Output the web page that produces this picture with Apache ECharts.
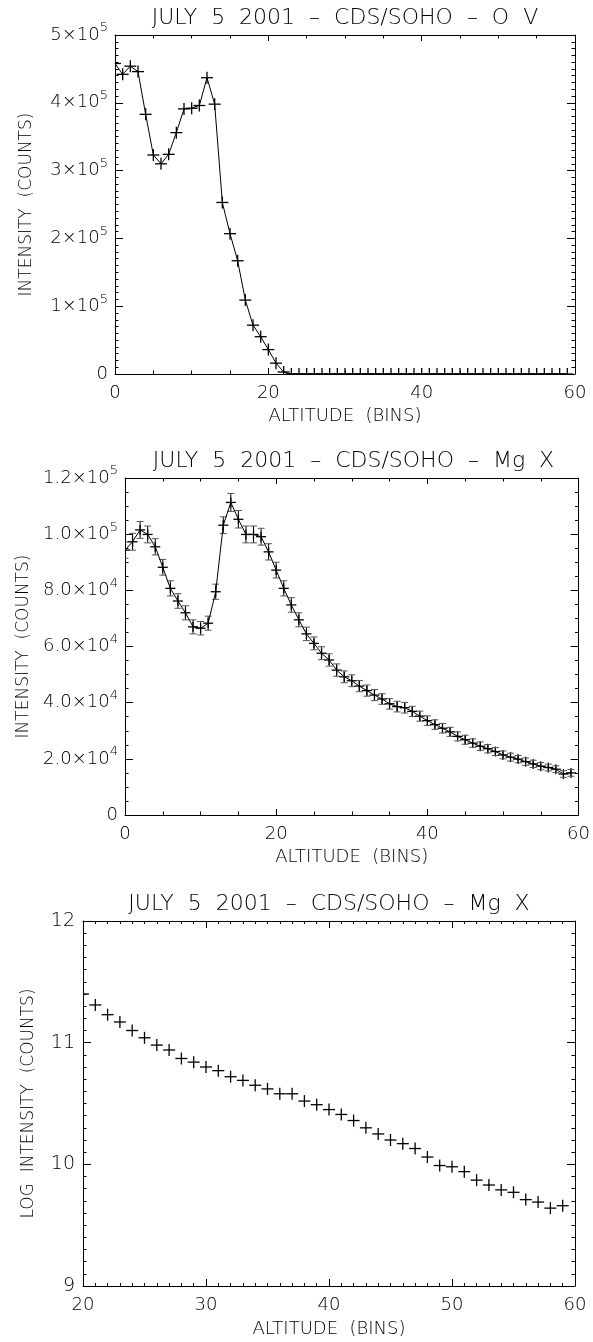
<!DOCTYPE html>
<html>
<head>
<meta charset="utf-8">
<script src="https://cdn.jsdelivr.net/npm/echarts@6/dist/echarts.min.js"></script>
<style>
  html, body {margin: 0; padding: 0; background: #fff;}
  #chart {width: 593px; height: 1342px;}
</style>
</head>
<body>
<div id="chart"></div>
<script>
// panel 1: O V intensity, bins 0..59
const ovStart = 0;
const ovCounts = [
  458000, 442000, 454000, 446000, 383000, 323000, 310000, 324000, 356000, 391000,
  392000, 396000, 437000, 398000, 253000, 207000, 167000, 109000, 72000, 55000,
  36000, 16000, 3000, 0, 0, 0, 0, 0, 0, 0,
  0, 0, 0, 0, 0, 0, 0, 0, 0, 0,
  0, 0, 0, 0, 0, 0, 0, 0, 0, 0,
  0, 0, 0, 0, 0, 0, 0, 0, 0, 0
];
const ovTickValues = [0, 100000, 200000, 300000, 400000, 500000];
const ovTickText = [['0', ''], ['1×10', '5'], ['2×10', '5'], ['3×10', '5'], ['4×10', '5'], ['5×10', '5']];

// panel 2: Mg X intensity with errors, bins 0..59
const mgStart = 0;
const mgCounts = [
  94300, 97300, 101500, 99900, 95500, 88200, 80700, 76200, 72000, 67000,
  66500, 68300, 79500, 103200, 111300, 105300, 99900, 99900, 99100, 93700,
  87200, 80700, 74800, 69500, 64500, 61100, 57600, 55200, 51600, 49200,
  47800, 45900, 44300, 42700, 41300, 39600, 38600, 38200, 36900, 35200,
  33600, 32200, 30900, 29600, 28000, 26800, 25600, 24500, 23600, 22600,
  21400, 20600, 19900, 19000, 18200, 17400, 16900, 16300, 14600, 15000
];
const mgErrors = [
  2900, 3000, 3000, 3000, 2900, 2800, 2700, 2600, 2500, 2500,
  2400, 2500, 2700, 3000, 3200, 3100, 3000, 3000, 3000, 2900,
  2800, 2700, 2600, 2500, 2400, 2300, 2300, 2200, 2200, 2100,
  2100, 2000, 2000, 2000, 1900, 1900, 1900, 1900, 1800, 1800,
  1700, 1700, 1700, 1600, 1600, 1600, 1500, 1500, 1500, 1400,
  1400, 1400, 1300, 1300, 1300, 1300, 1200, 1200, 1200, 1200
];
const mgTickValues = [0, 20000, 40000, 60000, 80000, 100000, 120000];
const mgTickText = [['0', ''], ['2.0×10', '4'], ['4.0×10', '4'], ['6.0×10', '4'], ['8.0×10', '4'], ['1.0×10', '5'], ['1.2×10', '5']];

// panel 3: log Mg X intensity, bins 20..59
const logStart = 20;
const logCounts = [
  11.40, 11.31, 11.23, 11.17, 11.10, 11.04, 10.98, 10.94, 10.87, 10.84,
  10.80, 10.77, 10.72, 10.69, 10.65, 10.62, 10.58, 10.58, 10.52, 10.49,
  10.45, 10.41, 10.36, 10.30, 10.25, 10.20, 10.17, 10.13, 10.06, 9.99,
  9.98, 9.94, 9.87, 9.83, 9.79, 9.77, 9.71, 9.69, 9.64, 9.66
];

const titles = [
  'JULY  5  2001  –  CDS/SOHO  –  O  V',
  'JULY  5  2001  –  CDS/SOHO  –  Mg  X',
  'JULY  5  2001  –  CDS/SOHO  –  Mg  X'
];

const FONT = 'DejaVu Sans';
const WEIGHT = 300;
const INK = '#000';

const toPairs = (start, vals) => vals.map((v, i) => [start + i, v]);

const sciLabel = (values, texts) => (v) => {
  const i = values.findIndex(t => Math.abs(t - v) < 1e-6);
  if (i < 0) return '';
  const t = texts[i];
  return t[1] ? '{m|' + t[0] + '}{e|' + t[1] + '}' : '{m|' + t[0] + '}';
};

const sciRich = {
  m: {fontSize: 18, fontFamily: FONT, fontWeight: WEIGHT, color: INK},
  e: {fontSize: 13, fontFamily: FONT, fontWeight: WEIGHT, color: INK, padding: [0, 0, 14, 0]}
};

function axis(o) {
  return {
    type: 'value',
    gridIndex: o.grid,
    position: o.position,
    min: o.min,
    max: o.max,
    interval: o.interval,
    name: o.name || '',
    nameLocation: 'middle',
    nameGap: o.nameGap || 0,
    nameTextStyle: {fontSize: o.nameSize || 17, fontFamily: FONT, fontWeight: WEIGHT, color: INK},
    axisLine: {show: true, onZero: false, lineStyle: {color: INK, width: 1}},
    axisTick: {show: true, inside: true, length: o.tickLen || 7, lineStyle: {color: INK, width: 1}},
    minorTick: {show: true, splitNumber: o.minor, length: o.minorLen || 3.5, lineStyle: {color: INK, width: 1}},
    splitLine: {show: false},
    minorSplitLine: {show: false},
    axisLabel: o.label ? Object.assign({
      show: true, fontSize: 18, fontFamily: FONT, fontWeight: WEIGHT, color: INK, margin: o.labelMargin || 10
    }, o.label) : {show: false}
  };
}

function plusSeries(xi, yi, data, size, withErr) {
  return {
    type: 'custom',
    xAxisIndex: xi,
    yAxisIndex: yi,
    clip: true,
    data: data,
    renderItem(params, api) {
      const p = api.coord([api.value(0), api.value(1)]);
      const h = size / 2;
      const st = {stroke: INK, lineWidth: 1.3};
      const kids = [
        {type: 'line', shape: {x1: p[0] - h, y1: p[1], x2: p[0] + h, y2: p[1]}, style: st},
        {type: 'line', shape: {x1: p[0], y1: p[1] - h, x2: p[0], y2: p[1] + h}, style: st}
      ];
      if (withErr) {
        const e = api.value(2);
        const hi = api.coord([api.value(0), api.value(1) + e]);
        const lo = api.coord([api.value(0), api.value(1) - e]);
        const cs = {stroke: '#555', lineWidth: 1};
        kids.push(
          {type: 'line', shape: {x1: p[0], y1: hi[1], x2: p[0], y2: lo[1]}, style: {stroke: INK, lineWidth: 1}},
          {type: 'line', shape: {x1: p[0] - 3.5, y1: hi[1], x2: p[0] + 3.5, y2: hi[1]}, style: cs},
          {type: 'line', shape: {x1: p[0] - 3.5, y1: lo[1], x2: p[0] + 3.5, y2: lo[1]}, style: cs}
        );
      }
      return {type: 'group', children: kids};
    }
  };
}

const grids = [
  {left: 115, top: 35, width: 460, height: 339},
  {left: 125, top: 478, width: 457, height: 337},
  {left: 83, top: 921, width: 492, height: 365}
];

const chart = echarts.init(document.getElementById('chart'), null, {renderer: 'canvas'});

const xLabel = {fontSize: 18};
const mgPairs = mgCounts.map((v, i) => [mgStart + i, v, mgErrors[i]]);

chart.setOption({
  animation: false,
  backgroundColor: '#fff',
  textStyle: {fontFamily: FONT, color: INK},
  title: grids.map((g, i) => ({
    text: titles[i],
    left: g.left + g.width / 2,
    top: g.top - 28,
    textAlign: 'center',
    padding: 0,
    textStyle: {fontSize: 22, fontWeight: WEIGHT, fontFamily: FONT, color: INK}
  })),
  grid: grids,
  xAxis: [
    axis({grid: 0, position: 'bottom', min: 0, max: 60, interval: 20, minor: 4, tickLen: 6,
      name: 'ALTITUDE  (BINS)', nameGap: 33, nameSize: 18, label: xLabel}),
    axis({grid: 0, position: 'top', min: 0, max: 60, interval: 20, minor: 4, tickLen: 6}),
    axis({grid: 1, position: 'bottom', min: 0, max: 60, interval: 20, minor: 4, tickLen: 6,
      name: 'ALTITUDE  (BINS)', nameGap: 33, nameSize: 18, label: xLabel}),
    axis({grid: 1, position: 'top', min: 0, max: 60, interval: 20, minor: 4, tickLen: 6}),
    axis({grid: 2, position: 'bottom', min: 20, max: 60, interval: 10, minor: 10, tickLen: 7, minorLen: 3,
      name: 'ALTITUDE  (BINS)', nameGap: 34, nameSize: 18, label: xLabel}),
    axis({grid: 2, position: 'top', min: 20, max: 60, interval: 10, minor: 10, tickLen: 7, minorLen: 3})
  ],
  yAxis: [
    axis({grid: 0, position: 'left', min: 0, max: 500000, interval: 100000, minor: 10, tickLen: 8,
      name: 'INTENSITY  (COUNTS)', nameGap: 80, labelMargin: 7,
      label: {formatter: sciLabel(ovTickValues, ovTickText), rich: sciRich}}),
    axis({grid: 0, position: 'right', min: 0, max: 500000, interval: 100000, minor: 10, tickLen: 8}),
    axis({grid: 1, position: 'left', min: 0, max: 120000, interval: 20000, minor: 4, tickLen: 8,
      name: 'INTENSITY  (COUNTS)', nameGap: 90, labelMargin: 7,
      label: {formatter: sciLabel(mgTickValues, mgTickText), rich: sciRich}}),
    axis({grid: 1, position: 'right', min: 0, max: 120000, interval: 20000, minor: 4, tickLen: 8}),
    axis({grid: 2, position: 'left', min: 9, max: 12, interval: 1, minor: 10, tickLen: 8,
      name: 'LOG  INTENSITY  (COUNTS)', nameGap: 46, labelMargin: 8,
      label: {fontSize: 19}}),
    axis({grid: 2, position: 'right', min: 9, max: 12, interval: 1, minor: 10, tickLen: 8})
  ],
  series: [
    {type: 'line', xAxisIndex: 0, yAxisIndex: 0, data: toPairs(ovStart, ovCounts),
      showSymbol: false, clip: true, lineStyle: {color: INK, width: 1}},
    plusSeries(0, 0, toPairs(ovStart, ovCounts), 12, false),
    {type: 'line', xAxisIndex: 2, yAxisIndex: 2, data: toPairs(mgStart, mgCounts),
      showSymbol: false, clip: true, lineStyle: {color: INK, width: 1}},
    plusSeries(2, 2, mgPairs, 10, true),
    plusSeries(4, 4, toPairs(logStart, logCounts), 12, false)
  ]
});
</script>
</body>
</html>
